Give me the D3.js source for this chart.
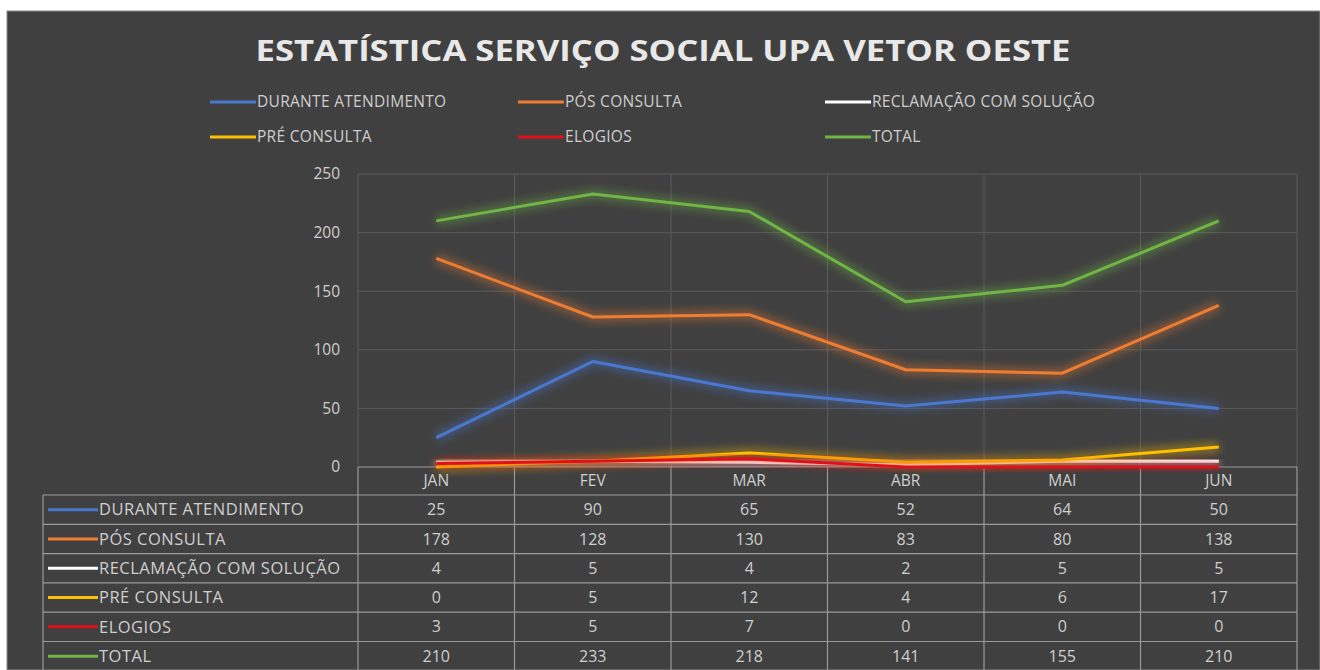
<!DOCTYPE html>
<html>
<head>
<meta charset="utf-8">
<title>Estatística Serviço Social</title>
<style>
body { margin: 0; background: #fff; }
text { font-family: "Open Sans", "Noto Sans", sans-serif; fill: #cfcfcf; }
</style>
</head>
<body>
<script src="https://cdn.jsdelivr.net/npm/d3@7"></script>
<script>

var months = ["JAN", "FEV", "MAR", "ABR", "MAI", "JUN"];
var seriesNames = ["DURANTE ATENDIMENTO", "PÓS CONSULTA", "RECLAMAÇÃO COM SOLUÇÃO", "PRÉ CONSULTA", "ELOGIOS", "TOTAL"];
var seriesColors = ["#4a78d0", "#ee7d31", "#ffffff", "#ffc000", "#e0101a", "#70b545"];
var durante = [25, 90, 65, 52, 64, 50];
var pos = [178, 128, 130, 83, 80, 138];
var reclamacao = [4, 5, 4, 2, 5, 5];
var pre = [0, 5, 12, 4, 6, 17];
var elogios = [3, 5, 7, 0, 0, 0];
var total = [210, 233, 218, 141, 155, 210];
var yTicks = [0, 50, 100, 150, 200, 250];

var series = [durante, pos, reclamacao, pre, elogios, total].map(function(v, i) {
  return {name: seriesNames[i], color: seriesColors[i], values: v};
});

var width = 1320, height = 670;

var svg = d3.select("body").append("svg")
    .attr("width", width)
    .attr("height", height);

// glow filter
var defs = svg.append("defs");
var f = defs.append("filter").attr("id", "glow")
    .attr("x", "-10%").attr("y", "-50%").attr("width", "120%").attr("height", "200%");
f.append("feGaussianBlur").attr("stdDeviation", 4);

// background
svg.append("rect")
    .attr("x", 7).attr("y", 11)
    .attr("width", width - 7).attr("height", height - 11)
    .attr("fill", "#404040")
    .attr("stroke", "#8a8a8a")
    .attr("stroke-width", 1);

svg.append("text")
    .attr("x", 663).attr("y", 61)
    .attr("text-anchor", "middle")
    .style("font-size", "29px")
    .style("font-weight", "bold")
    .style("fill", "#e8e8e8")
    .attr("textLength", 815)
    .attr("lengthAdjust", "spacingAndGlyphs")
    .text("ESTATÍSTICA SERVIÇO SOCIAL UPA VETOR OESTE");

// legend
var legendPos = [[210, 102], [518, 102], [825, 102], [210, 137], [518, 137], [825, 137]];
var legend = svg.append("g").selectAll("g")
    .data(series)
    .enter().append("g")
    .attr("transform", function(d, i) { return "translate(" + legendPos[i][0] + "," + legendPos[i][1] + ")"; });
legend.append("line")
    .attr("x1", 0).attr("x2", 46)
    .attr("stroke", function(d) { return d.color; })
    .attr("stroke-width", 7).attr("opacity", 0.4)
    .attr("filter", "url(#glow)");
legend.append("line")
    .attr("x1", 0).attr("x2", 46)
    .attr("stroke", function(d) { return d.color; })
    .attr("stroke-width", 3);
legend.append("text")
    .attr("x", 47).attr("dy", "0.35em")
    .style("font-size", "15.5px")
    .style("letter-spacing", "0.3px")
    .text(function(d) { return d.name; });

var plotLeft = 358, plotRight = 1297, plotTop = 174, plotBottom = 467;

var x = d3.scaleBand().domain(months).range([plotLeft, plotRight]);
var y = d3.scaleLinear().domain([0, 250]).range([plotBottom, plotTop]);

// gridlines
svg.append("g").selectAll("line.h")
    .data(yTicks.filter(function(t) { return t > 0; }))
    .enter().append("line")
    .attr("x1", plotLeft).attr("x2", plotRight)
    .attr("y1", function(d) { return y(d); }).attr("y2", function(d) { return y(d); })
    .attr("stroke", "#5a5a5a").attr("stroke-width", 1);

svg.append("g").selectAll("line.v")
    .data(months.concat(["end"]))
    .enter().append("line")
    .attr("x1", function(d, i) { return plotLeft + i * x.bandwidth(); })
    .attr("x2", function(d, i) { return plotLeft + i * x.bandwidth(); })
    .attr("y1", plotTop).attr("y2", plotBottom)
    .attr("stroke", "#5a5a5a").attr("stroke-width", 1);

// y labels
svg.append("g").selectAll("text")
    .data(yTicks)
    .enter().append("text")
    .attr("x", 340).attr("y", function(d) { return y(d); })
    .attr("dy", "0.35em")
    .attr("text-anchor", "end")
    .style("font-size", "15.5px")
    .text(function(d) { return d; });

// data table
var rowH = 29.3;
var headerTop = plotBottom, tableTop = 495, tableLeft = 43;
var tableBottom = tableTop + rowH * series.length;
var grid = svg.append("g").attr("stroke", "#9a9a9a").attr("stroke-width", 1.2);

grid.append("line")
    .attr("x1", plotLeft).attr("x2", plotRight)
    .attr("y1", headerTop).attr("y2", headerTop);
grid.selectAll("line.row")
    .data(d3.range(series.length + 1))
    .enter().append("line")
    .attr("x1", tableLeft).attr("x2", plotRight)
    .attr("y1", function(d) { return tableTop + d * rowH; })
    .attr("y2", function(d) { return tableTop + d * rowH; });
grid.append("line")
    .attr("x1", tableLeft).attr("x2", tableLeft)
    .attr("y1", tableTop).attr("y2", tableBottom);
grid.selectAll("line.col")
    .data(d3.range(months.length + 1))
    .enter().append("line")
    .attr("x1", function(d) { return plotLeft + d * x.bandwidth(); })
    .attr("x2", function(d) { return plotLeft + d * x.bandwidth(); })
    .attr("y1", headerTop).attr("y2", tableBottom);

svg.append("g").selectAll("text")
    .data(months)
    .enter().append("text")
    .attr("x", function(d) { return x(d) + x.bandwidth() / 2; })
    .attr("y", (headerTop + tableTop) / 2)
    .attr("dy", "0.35em")
    .attr("text-anchor", "middle")
    .style("font-size", "15.5px")
    .text(function(d) { return d; });

var rows = svg.append("g").selectAll("g")
    .data(series)
    .enter().append("g")
    .attr("transform", function(d, i) { return "translate(0," + (tableTop + (i + 0.5) * rowH) + ")"; });
rows.append("line")
    .attr("x1", 48).attr("x2", 98)
    .attr("stroke", function(d) { return d.color; })
    .attr("stroke-width", 3);
rows.append("text")
    .attr("x", 99).attr("dy", "0.35em")
    .style("font-size", "16.5px")
    .style("letter-spacing", "0.5px")
    .text(function(d) { return d.name; });
rows.selectAll("text.v")
    .data(function(d) { return d.values; })
    .enter().append("text")
    .attr("x", function(d, i) { return x(months[i]) + x.bandwidth() / 2; })
    .attr("dy", "0.35em")
    .attr("text-anchor", "middle")
    .style("font-size", "16px")
    .text(function(d) { return d; });

// lines
var line = d3.line()
    .x(function(d, i) { return x(months[i]) + x.bandwidth() / 2; })
    .y(function(d) { return y(d); });

var lines = svg.append("g").selectAll("g")
    .data(series)
    .enter().append("g");
lines.append("path")
    .attr("d", function(d) { return line(d.values); })
    .attr("fill", "none")
    .attr("stroke", function(d) { return d.color; })
    .attr("stroke-width", 10)
    .attr("opacity", 0.4)
    .attr("filter", "url(#glow)");
lines.append("path")
    .attr("d", function(d) { return line(d.values); })
    .attr("fill", "none")
    .attr("stroke", function(d) { return d.color; })
    .attr("stroke-width", 3)
    .attr("stroke-linejoin", "round");

</script>
</body>
</html>
